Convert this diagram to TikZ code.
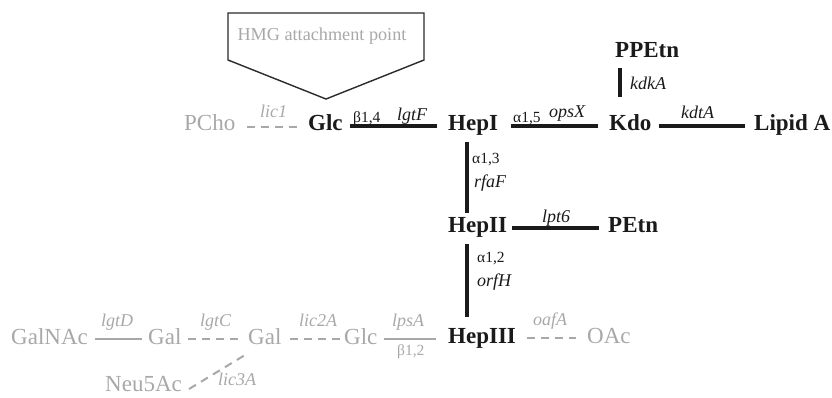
\documentclass[tikz,border=0pt]{standalone}
\usepackage{fontspec}
\setmainfont{Liberation Serif}
\usetikzlibrary{calc}
\definecolor{ink}{HTML}{1A1A1A}
\definecolor{pale}{HTML}{A8A8A8}
\definecolor{frame}{HTML}{2A2A2A}
\begin{document}
\begin{tikzpicture}[x=1pt,y=-1pt,
  core/.style={inner sep=0pt,anchor=base west,text=ink,font=\fontsize{23}{23}\selectfont\bfseries},
  extra/.style={inner sep=0pt,anchor=base west,text=pale,font=\fontsize{23}{23}\selectfont},
  gene/.style={inner sep=0pt,anchor=base west,text=ink,font=\fontsize{18}{18}\selectfont\itshape},
  pgene/.style={gene,text=pale},
  link/.style={inner sep=0pt,anchor=base west,text=ink,font=\fontsize{15.5}{16}\selectfont},
  plink/.style={link,text=pale},
  bond/.style={draw=ink,line width=4pt},
  pbond/.style={draw=pale,line width=2pt},
  pdash/.style={pbond,dash pattern=on 8pt off 6pt}]
\useasboundingbox (0,0) rectangle (832,397);

% HMG attachment marker
\draw[frame,line width=1.4pt,line join=miter] (228,13) -- (424,13) -- (424,60) -- (326,99) -- (228,60) -- cycle;
\node[inner sep=0pt,anchor=base,text=pale,font=\fontsize{18.2}{18}\selectfont] (hmg) at (322,40) {HMG attachment point};

% core oligosaccharide
\node[extra] (pcho)   at (184,130) {PCho};
\node[core]  (glc)    at (308,130) {Glc};
\node[core]  (hepi)   at (448,130) {HepI};
\node[core]  (kdo)    at (609,130) {Kdo};
\node[core]  (lipida) at (754,130) {Lipid A};
\node[core]  (ppetn)  at (615,57)  {PPEtn};
\node[core]  (hepii)  at (448,232) {HepII};
\node[core]  (petn)   at (608,232) {PEtn};
\node[core]  (hepiii) at (448,343) {HepIII};
\node[extra] (oac)    at (587,343) {OAc};

% variable outer extension
\node[extra] (galnac) at (11,344)  {GalNAc};
\node[extra] (gala)   at (148,344) {Gal};
\node[extra] (galb)   at (248,344) {Gal};
\node[extra] (glcb)   at (344,344) {Glc};
\node[extra] (neu)    at (105,391) {Neu5Ac};

% horizontal bonds
\draw[pdash] let \p1=(pcho.base east), \p2=(glc.base west) in (\x1+11pt,\y1+3pt) -- (\x2-11pt,\y1+3pt);
\draw[bond]  let \p1=(glc.base east), \p2=(hepi.base west) in (\x1+7pt,\y1+4pt) -- (\x2-11pt,\y1+4pt);
\draw[bond]  let \p1=(hepi.base east), \p2=(kdo.base west) in (\x1+13pt,\y1+4pt) -- (\x2-11pt,\y1+4pt);
\draw[bond]  let \p1=(kdo.base east), \p2=(lipida.base west) in (\x1+7pt,\y1+4pt) -- (\x2-9pt,\y1+4pt);
\draw[bond]  let \p1=(hepii.base east), \p2=(petn.base west) in (\x1+5pt,\y1+4pt) -- (\x2-9pt,\y1+4pt);
\draw[pdash] let \p1=(hepiii.base east), \p2=(oac.base west) in (\x1+11pt,\y1+5pt) -- (\x2-11pt,\y1+5pt);
\draw[pbond] let \p1=(glcb.base east), \p2=(hepiii.base west) in (\x1+6pt,\y1+5pt) -- (\x2-12pt,\y1+5pt);
\draw[pbond] let \p1=(galnac.base east), \p2=(gala.base west) in (\x1+7pt,\y1+5pt) -- (\x2-6pt,\y1+5pt);
\draw[pdash] let \p1=(gala.base east), \p2=(galb.base west) in (\x1+6pt,\y1+5pt) -- (\x2-10pt,\y1+5pt);
\draw[pdash] let \p1=(galb.base east), \p2=(glcb.base west) in (\x1+8pt,\y1+5pt) -- (\x2-4pt,\y1+5pt);
\draw[pdash] let \p1=(neu.base east), \p2=(galb.base west) in (\x1+7pt,\y1+2pt) -- (\x2-3pt,\y2-11pt);

% vertical bonds
\draw[bond] let \p1=(ppetn.base west), \p2=(kdo.north) in (\x1+5pt,\y1-11pt) -- (\x1+5pt,\y2+17pt);
\draw[bond] let \p1=(hepi.base west), \p2=(hepii.north) in (\x1+19pt,\y1-12pt) -- (\x1+19pt,\y2+4pt);
\draw[bond] let \p1=(hepii.base west), \p2=(hepiii.north) in (\x1+19pt,\y1-12pt) -- (\x1+19pt,\y2+11pt);

% linkage and gene labels
\node[pgene] (l-lic1)  at (260,117) {lic1};
\node[link]  (l-b14)   at (353,122) {β1,4};
\node[gene]  (l-lgtF)  at (397,120) {lgtF};
\node[link]  (l-a15)   at (513,122) {α1,5};
\node[gene]  (l-opsX)  at (549,117) {opsX};
\node[gene]  (l-kdtA)  at (681,118) {kdtA};
\node[gene]  (l-kdkA)  at (630,89)  {kdkA};
\node[link]  (l-a13)   at (472,163) {α1,3};
\node[gene]  (l-rfaF)  at (474,187) {rfaF};
\node[gene]  (l-lpt6)  at (542,222) {lpt6};
\node[link]  (l-a12)   at (477,262) {α1,2};
\node[gene]  (l-orfH)  at (477,286) {orfH};
\node[pgene] (l-oafA)  at (533,325) {oafA};
\node[pgene] (l-lpsA)  at (392,326) {lpsA};
\node[plink] (l-b12)   at (397,355) {β1,2};
\node[pgene] (l-lgtD)  at (101,326) {lgtD};
\node[pgene] (l-lgtC)  at (200,326) {lgtC};
\node[pgene] (l-lic2A) at (299,326) {lic2A};
\node[pgene] (l-lic3A) at (218,385) {lic3A};
\end{tikzpicture}
\end{document}
